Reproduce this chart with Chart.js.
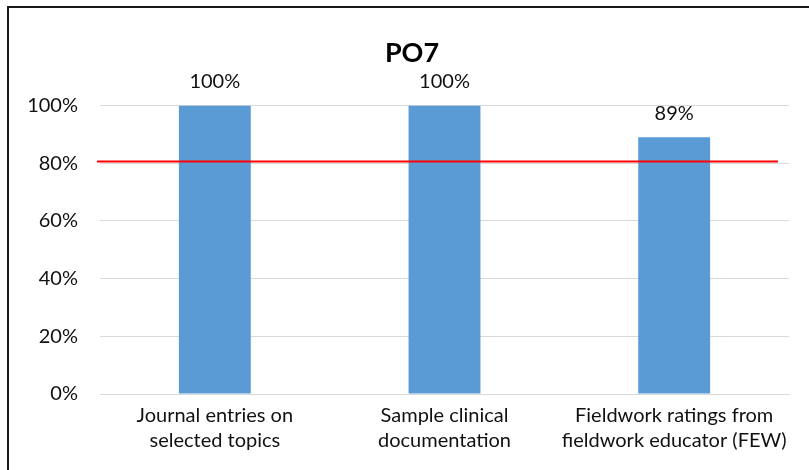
<!DOCTYPE html>
<html>
<head>
<meta charset="utf-8">
<script src="https://cdn.jsdelivr.net/npm/chart.js@4.4.1/dist/chart.umd.min.js"></script>
<style>
  html, body { margin: 0; padding: 0; background: #fff; overflow: hidden; width: 809px; height: 470px; }
  #frame { position: absolute; left: 7px; top: 6px; width: 830px; height: 480px; border-left: 2px solid #1a1a1a; border-top: 2px solid #1a1a1a; }
  #wrap { position: absolute; left: 9px; top: 8px; width: 806px; height: 462px; }
</style>
</head>
<body>
<div id="frame"></div>
<div id="wrap"><canvas id="c" width="806" height="462"></canvas></div>
<script>
const chartTitle = "PO7";
const categories = [
  ["Journal entries on", "selected topics"],
  ["Sample clinical", "documentation"],
  ["Fieldwork ratings from", "fieldwork educator (FEW)"]
];
const values = [100, 100, 89];
const target = 80;
const yTicks = [0, 20, 40, 60, 80, 100];

const FONT = "Lato, 'Open Sans', sans-serif";

const valueLabels = {
  id: 'valueLabels',
  afterDatasetsDraw(chart) {
    const ctx = chart.ctx;
    const meta = chart.getDatasetMeta(0);
    ctx.save();
    ctx.font = "20px " + FONT;
    ctx.fillStyle = "#111";
    ctx.textAlign = "center";
    ctx.textBaseline = "middle";
    meta.data.forEach((bar, i) => {
      ctx.fillText(values[i] + "%", bar.x, bar.y - 24);
    });
    ctx.restore();
  }
};

const targetLine = {
  id: 'targetLine',
  afterDatasetsDraw(chart) {
    const ctx = chart.ctx;
    const a = chart.chartArea;
    const y = chart.scales.y.getPixelForValue(target) - 1.5;
    ctx.save();
    ctx.strokeStyle = "#FF0000";
    ctx.lineWidth = 2;
    ctx.beginPath();
    ctx.moveTo(a.left - 3, y);
    ctx.lineTo(a.right - 11, y);
    ctx.stroke();
    ctx.restore();
  }
};

new Chart(document.getElementById('c'), {
  type: 'bar',
  data: {
    labels: categories,
    datasets: [{
      data: values,
      backgroundColor: "#5B9BD5",
      borderWidth: 0,
      categoryPercentage: 1,
      barPercentage: 0.313
    }]
  },
  options: {
    responsive: false,
    animation: false,
    devicePixelRatio: 1,
    layout: { padding: { left: 0, right: 0, top: 0, bottom: 0 } },
    plugins: {
      legend: { display: false },
      tooltip: { enabled: false },
      title: {
        display: true,
        text: chartTitle,
        color: "#000",
        font: { family: FONT, size: 27, weight: 'bold', lineHeight: 1.2 },
        padding: { top: 29, bottom: 36 }
      }
    },
    scales: {
      x: {
        grid: { display: false, drawTicks: false },
        border: { display: true, color: "#d9d9d9", width: 1 },
        ticks: {
          color: "#111",
          font: { family: FONT, size: 20, lineHeight: 1.25 },
          padding: 9,
          maxRotation: 0,
          autoSkip: false
        },
        afterFit(s) { s.height = 76; }
      },
      y: {
        min: 0,
        max: 100,
        afterBuildTicks(s) { s.ticks = yTicks.map(v => ({ value: v })); },
        grid: { color: "#d9d9d9", lineWidth: 1, drawTicks: false },
        border: { display: false },
        ticks: {
          color: "#111",
          font: { family: FONT, size: 20 },
          padding: 22,
          callback: v => v + "%"
        },
        afterFit(s) { s.width = 91; }
      },
      yRight: {
        position: 'right',
        display: true,
        min: 0,
        max: 100,
        grid: { display: false, drawTicks: false },
        border: { display: false },
        ticks: { display: false },
        afterFit(s) { s.width = 26; }
      }
    }
  },
  plugins: [valueLabels, targetLine]
});
</script>
</body>
</html>
